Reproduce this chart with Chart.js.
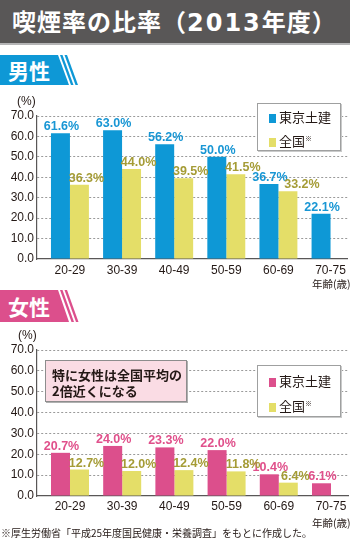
<!DOCTYPE html>
<html lang="ja">
<head>
<meta charset="utf-8">
<script src="https://cdn.jsdelivr.net/npm/chart.js@4/dist/chart.umd.min.js"></script>
<style>
  html, body { margin:0; padding:0; background:#fff; }
  #root { position:relative; width:350px; height:543px; overflow:hidden; font-family:"Noto Sans CJK JP","Liberation Sans",sans-serif; color:#231815; }
  .abs { position:absolute; }
  #title { left:0; top:0; width:350px; height:43px; background:#595757; border-bottom:2px solid #b5b5b6; }
  #title > span { position:absolute; left:12px; top:3px; font-size:24px; line-height:36px; font-weight:bold; color:#fff; letter-spacing:1px; white-space:nowrap; }
  #title .num { font-family:"DejaVu Sans","Liberation Sans",sans-serif; font-size:24px; letter-spacing:2px; }
  .tab { font-weight:bold; color:#fff; font-size:21px; line-height:30px; left:8px; white-space:nowrap; }
  .unit { font-family:"Liberation Sans",sans-serif; font-size:12px; line-height:14px; }
  .age { font-size:10.5px; line-height:12px; white-space:nowrap; }
  .legend { background:#fff; border:1px solid #9fa0a0; box-shadow:1px 1px 0 #c9caca; box-sizing:border-box; }
  .li { position:absolute; left:11px; font-size:13px; line-height:16px; white-space:nowrap; }
  .li i { display:inline-block; width:7px; height:9px; margin-right:3px; vertical-align:-1px; }
  .li sup { font-size:7px; vertical-align:5px; }
  #note { left:45px; top:360px; width:142px; height:42px; background:#fadce4; border:1px solid #8d8d8d; box-shadow:1px 1px 0 #b0b0b0; box-sizing:border-box; font-weight:bold; font-size:13px; line-height:16px; padding:6px 0 0 6px; white-space:nowrap; }
  #foot { left:1px; top:526px; font-size:10px; line-height:14px; white-space:nowrap; letter-spacing:0; }
  canvas { position:absolute; left:0; }
</style>
</head>
<body>
<div id="root">
  <div id="title" class="abs"><span>喫煙率の比率（<span class="num">2013</span>年度）</span></div>

  <svg class="abs" style="left:0;top:0" width="350" height="543">
    <polygon points="0,55 58,55 69,85 0,85" fill="#0e98d6"/>
    <polygon points="60,55 62.5,55 73.5,85 71,85" fill="#0e98d6"/>
    <polygon points="64.5,55 67,55 78,85 75.5,85" fill="#0e98d6"/>
    <polygon points="0,290 58,290 69,322 0,322" fill="#dc4f8c"/>
    <polygon points="60,290 62.5,290 74,322 71.5,322" fill="#dc4f8c"/>
    <polygon points="64.5,290 67,290 78.5,322 76,322" fill="#dc4f8c"/>
  </svg>
  <div class="abs tab" style="top:55px">男性</div>
  <div class="abs tab" style="top:291px">女性</div>

  <canvas id="c1" width="350" height="190" style="top:100px"></canvas>
  <canvas id="c2" width="350" height="190" style="top:335px"></canvas>

  <div class="abs unit" style="left:17px;top:94px">(%)</div>
  <div class="abs unit" style="left:18px;top:328px">(%)</div>
  <div class="abs age" style="left:312px;top:278px">年齢(歳)</div>
  <div class="abs age" style="left:312px;top:517px">年齢(歳)</div>

  <div class="abs legend" style="left:257px;top:103px;width:84px;height:48px">
    <div class="li" style="top:5px"><i style="background:#0e98d6"></i>東京土建</div>
    <div class="li" style="top:26px"><i style="background:#e4de68"></i>全国<sup>※</sup></div>
  </div>
  <div class="abs legend" style="left:257px;top:365px;width:84px;height:52px">
    <div class="li" style="top:7px"><i style="background:#dc4f8c"></i>東京土建</div>
    <div class="li" style="top:29px"><i style="background:#e4de68"></i>全国<sup>※</sup></div>
  </div>

  <div id="note" class="abs">特に女性は全国平均の<br>2倍近くになる</div>
  <div id="foot" class="abs">※厚生労働省「平成25年度国民健康・栄養調査」をもとに作成した。</div>
</div>

<script>
// ---- data ----
const ageGroups = ['20-29', '30-39', '40-49', '50-59', '60-69', '70-75'];
const yTicks = [0, 10, 20, 30, 40, 50, 60, 70];
const seriesNames = ['東京土建', '全国'];
const maleTokyo = [61.6, 63.0, 56.2, 50.0, 36.7, 22.1];
const maleNational = [36.3, 44.0, 39.5, 41.5, 33.2, null];
const femaleTokyo = [20.7, 24.0, 23.3, 22.0, 10.4, 6.1];
const femaleNational = [12.7, 12.0, 12.4, 11.8, 6.4, null];

const BLUE = '#0e98d6', YELLOW = '#e4de68', PINK = '#dc4f8c';
const OLIVE = '#a59c36';

function pts(arr) { return arr.map((v, i) => ({ x: i, y: v })); }

const valueLabels = {
  id: 'valueLabels',
  afterDatasetsDraw(chart, args, opts) {
    const ctx = chart.ctx;
    ctx.save();
    ctx.font = 'bold 12.5px "Liberation Sans", Arial, sans-serif';
    ctx.textAlign = 'center';
    ctx.textBaseline = 'alphabetic';
    chart.data.datasets.forEach((ds, di) => {
      const meta = chart.getDatasetMeta(di);
      meta.data.forEach((bar, i) => {
        const v = ds.data[i].y;
        if (v == null) return;
        let dx = opts.dx[di];
        (opts.nudges || []).forEach(n => { if (n.d === di && n.i === i) dx += n.dx; });
        ctx.fillStyle = opts.colors[di];
        ctx.fillText(v.toFixed(1) + '%', bar.x + dx, bar.y - 3);
      });
    });
    ctx.restore();
  }
};

function makeChart(id, tokyo, national, color, labelColors, padTop, xAxisH, labelPad, nudges) {
  return new Chart(document.getElementById(id), {
    type: 'bar',
    data: {
      datasets: [
        { label: seriesNames[0], data: pts(tokyo), backgroundColor: color },
        { label: seriesNames[1], data: pts(national), backgroundColor: YELLOW }
      ]
    },
    options: {
      responsive: false,
      animation: false,
      events: [],
      layout: { padding: { top: padTop, right: 2, left: 0, bottom: 0 } },
      datasets: { bar: { categoryPercentage: 0.728, barPercentage: 1.0, borderWidth: 0 } },
      plugins: {
        legend: { display: false },
        tooltip: { enabled: false },
        valueLabels: { colors: labelColors, dx: [1, 7], nudges: nudges }
      },
      scales: {
        x: {
          type: 'linear',
          offset: false,
          min: -0.632, max: 5.326,
          grid: { display: false, drawTicks: false, offset: false },
          border: { display: true, color: '#595757', width: 1.2 },
          afterBuildTicks: s => { s.ticks = ageGroups.map((_, i) => ({ value: i })); },
          ticks: {
            callback: v => ageGroups[v],
            color: '#231815',
            padding: labelPad,
            maxRotation: 0,
            autoSkip: false,
            font: { family: '"Liberation Sans", Arial, sans-serif', size: 12 }
          },
          afterFit: s => { s.height = xAxisH; }
        },
        y: {
          min: 0, max: 70,
          afterBuildTicks: s => { s.ticks = yTicks.map(v => ({ value: v })); },
          grid: {
            drawTicks: false,
            color: c => (c.tick && c.tick.value === 0) ? 'rgba(0,0,0,0)' : '#9a9a9a',
            lineWidth: 1
          },
          border: { display: true, color: '#595757', width: 1.2, dash: [2, 2] },
          ticks: {
            callback: v => v.toFixed(1),
            color: '#231815',
            padding: 3,
            font: { family: '"Liberation Sans", Arial, sans-serif', size: 12 }
          },
          afterFit: s => { s.width = 37; }
        }
      }
    },
    plugins: [valueLabels]
  });
}

makeChart('c1', maleTokyo, maleNational, BLUE, ['#1896d4', OLIVE], 16, 31, 4, [{ d: 1, i: 4, dx: 7 }]);
makeChart('c2', femaleTokyo, femaleNational, PINK, ['#e0508b', OLIVE], 15, 29, 3, []);
</script>
</body>
</html>
